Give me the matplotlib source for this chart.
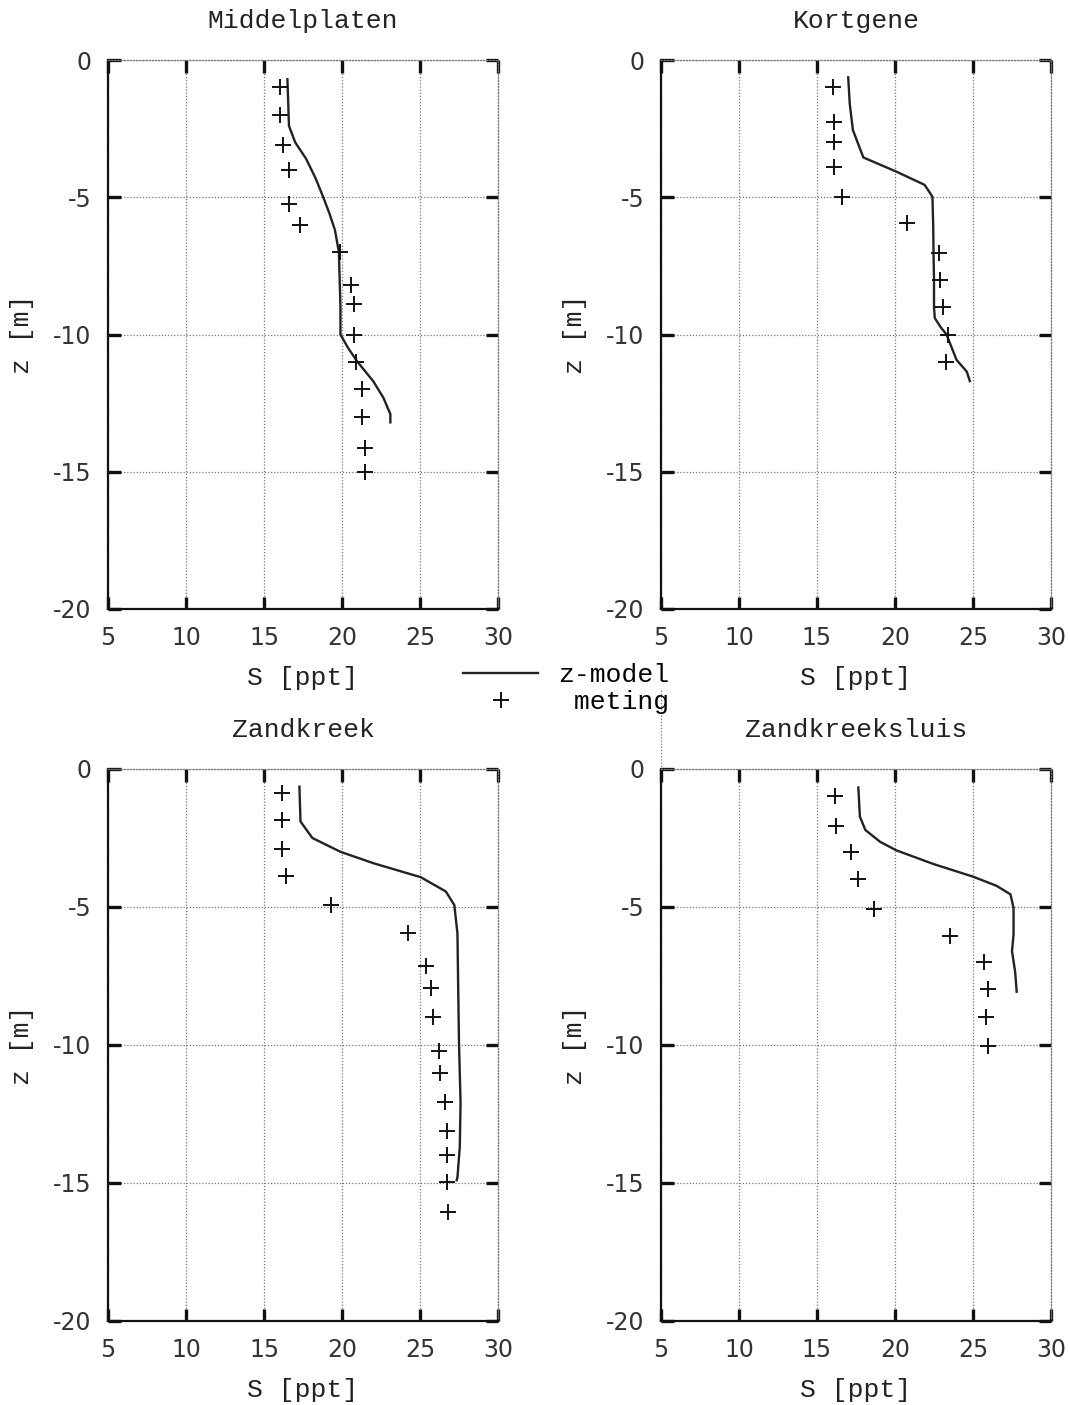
import matplotlib
matplotlib.use("Agg")
import matplotlib.pyplot as plt
from matplotlib.lines import Line2D
from matplotlib.ticker import FuncFormatter

# ---- salinity profiles: z-model (line) and measurements (+) ----
stations = ["Middelplaten", "Kortgene", "Zandkreek", "Zandkreeksluis"]

middelplaten_model_z = [-0.7, -1.5, -2.4, -3.0, -3.6, -4.3, -5.0, -5.6, -6.2, -7.0,
                        -8.0, -9.0, -10.0, -10.5, -11.0, -11.7, -12.3, -12.9, -13.2]
middelplaten_model_s = [16.5, 16.55, 16.6, 17.0, 17.7, 18.3, 18.8, 19.2, 19.55, 19.8,
                        19.85, 19.9, 19.9, 20.4, 21.0, 22.0, 22.65, 23.1, 23.1]
middelplaten_meas_z = [-1.0, -2.0, -3.1, -4.0, -5.25, -6.0, -7.0, -8.2, -8.9, -10.0,
                       -11.0, -12.0, -13.0, -14.15, -15.0]
middelplaten_meas_s = [16.0, 16.05, 16.2, 16.6, 16.6, 17.3, 19.9, 20.6, 20.8, 20.8,
                       20.9, 21.3, 21.3, 21.5, 21.5]

kortgene_model_z = [-0.63, -1.6, -2.55, -3.55, -4.07, -4.55, -4.98, -6.07, -7.0, -8.0,
                    -9.0, -9.4, -9.71, -10.0, -10.93, -11.35, -11.7]
kortgene_model_s = [17.0, 17.1, 17.3, 17.97, 20.1, 21.9, 22.4, 22.45, 22.47, 22.5,
                    22.5, 22.55, 22.9, 23.3, 23.95, 24.6, 24.8]
kortgene_meas_z = [-1.0, -2.25, -2.97, -3.9, -5.0, -5.95, -7.04, -8.0, -9.0, -10.0, -11.0]
kortgene_meas_s = [16.05, 16.1, 16.1, 16.1, 16.6, 20.75, 22.8, 22.9, 23.1, 23.4, 23.3]

zandkreek_model_z = [-0.64, -1.9, -2.5, -3.0, -3.42, -3.92, -4.44, -4.93, -5.95, -8.0,
                     -9.94, -12.1, -13.7, -14.8, -14.9]
zandkreek_model_s = [17.27, 17.34, 18.1, 19.9, 22.05, 25.05, 26.66, 27.2, 27.4, 27.45,
                     27.5, 27.6, 27.55, 27.4, 27.35]
zandkreek_meas_z = [-0.86, -1.85, -2.9, -3.88, -4.93, -5.93, -7.14, -7.95, -8.97, -10.2,
                    -11.0, -12.08, -13.1, -13.99, -14.95, -16.04]
zandkreek_meas_s = [16.16, 16.16, 16.16, 16.4, 19.3, 24.2, 25.4, 25.7, 25.85, 26.2,
                    26.3, 26.6, 26.7, 26.7, 26.7, 26.8]

zandkreeksluis_model_z = [-0.67, -1.73, -2.21, -2.64, -2.95, -3.44, -3.9, -4.23, -4.54,
                          -5.03, -6.0, -6.6, -7.34, -8.07]
zandkreeksluis_model_s = [17.65, 17.75, 18.1, 19.05, 20.1, 22.45, 25.0, 26.5, 27.4,
                          27.6, 27.6, 27.5, 27.7, 27.8]
zandkreeksluis_meas_z = [-0.98, -2.07, -3.0, -3.98, -5.08, -6.05, -7.0, -7.97, -9.0, -10.05]
zandkreeksluis_meas_s = [16.15, 16.2, 17.2, 17.65, 18.65, 23.5, 25.7, 25.95, 25.85, 25.95]

model_z = [middelplaten_model_z, kortgene_model_z, zandkreek_model_z, zandkreeksluis_model_z]
model_s = [middelplaten_model_s, kortgene_model_s, zandkreek_model_s, zandkreeksluis_model_s]
meas_z = [middelplaten_meas_z, kortgene_meas_z, zandkreek_meas_z, zandkreeksluis_meas_z]
meas_s = [middelplaten_meas_s, kortgene_meas_s, zandkreek_meas_s, zandkreeksluis_meas_s]

x_ticks = [5, 10, 15, 20, 25, 30]
z_ticks = [0, -5, -10, -15, -20]
legend_labels = ["z-model", "meting"]

MONO = ["Liberation Mono", "DejaVu Sans Mono"]
SANS = ["DejaVu Sans"]

W, H = 1070, 1405
fig = plt.figure(figsize=(W / 100, H / 100), dpi=100)

# axes boxes in pixels: (left, top, right, bottom)
boxes = [(108, 60, 498, 609), (661, 60, 1051, 609),
         (108, 769, 498, 1321), (661, 769, 1051, 1321)]

fmt = FuncFormatter(lambda v, p: f"{v:g}".replace("\u2212", "-"))

axes = []
for i, (l, t, r, b) in enumerate(boxes):
    ax = fig.add_axes([l / W, 1 - b / H, (r - l) / W, (b - t) / H])
    axes.append(ax)
    ax.plot(model_s[i], model_z[i], color="#222222", lw=1.7, solid_joinstyle="round")
    ax.plot(meas_s[i], meas_z[i], ls="none", marker="+", ms=12, mew=1.4, color="#111111")
    ax.set_xlim(5, 30)
    ax.set_ylim(-20, 0)
    ax.set_xticks(x_ticks)
    ax.set_yticks(z_ticks)
    ax.xaxis.set_major_formatter(fmt)
    ax.yaxis.set_major_formatter(fmt)
    ax.grid(True, ls=(0, (1, 1.5)), color="#777777", lw=0.9)
    ax.tick_params(direction="in", length=9, width=2.4, color="#111111",
                   top=True, right=True, labelsize=17, pad=12)
    for lab in ax.get_xticklabels() + ax.get_yticklabels():
        lab.set_family(SANS)
        lab.set_color("#333333")
    for side in ("left", "bottom"):
        ax.spines[side].set_linewidth(1.6)
        ax.spines[side].set_color("#111111")
    for side in ("top", "right"):
        ax.spines[side].set_linestyle((0, (1, 1.5)))
        ax.spines[side].set_linewidth(0.9)
        ax.spines[side].set_color("#777777")
    ax.set_title(stations[i], family=MONO, fontsize=19, pad=23, color="#222222")
    ax.set_xlabel("S [ppt]", family=MONO, fontsize=19, color="#222222")
    ax.xaxis.set_label_coords(0.5, -0.103)
    ax.set_ylabel("z [m]", family=MONO, fontsize=19, color="#222222")
    ax.yaxis.set_label_coords(-0.19, 0.5)

handles = [Line2D([], [], color="#222222", lw=1.7),
           Line2D([], [], ls="none", marker="+", ms=12, mew=1.4, color="#111111")]
labels = [legend_labels[0], legend_labels[1].rjust(len(legend_labels[0]))]
fig.legend(handles, labels, loc="upper left", bbox_to_anchor=(463 / W, 1 - 663 / H),
           frameon=False, prop={"family": MONO, "size": 19}, handlelength=2.85,
           handletextpad=0.75, labelspacing=0.12, borderpad=0, borderaxespad=0)

# dotted left edge of the lower-right panel running up past its top
fig.add_artist(Line2D([661 / W, 661 / W], [1 - 690 / H, 1 - 769 / H],
                      transform=fig.transFigure, ls=(0, (1, 1.5)), lw=0.9, color="#777777"))

fig.savefig("out.png", dpi=100, facecolor="white")
